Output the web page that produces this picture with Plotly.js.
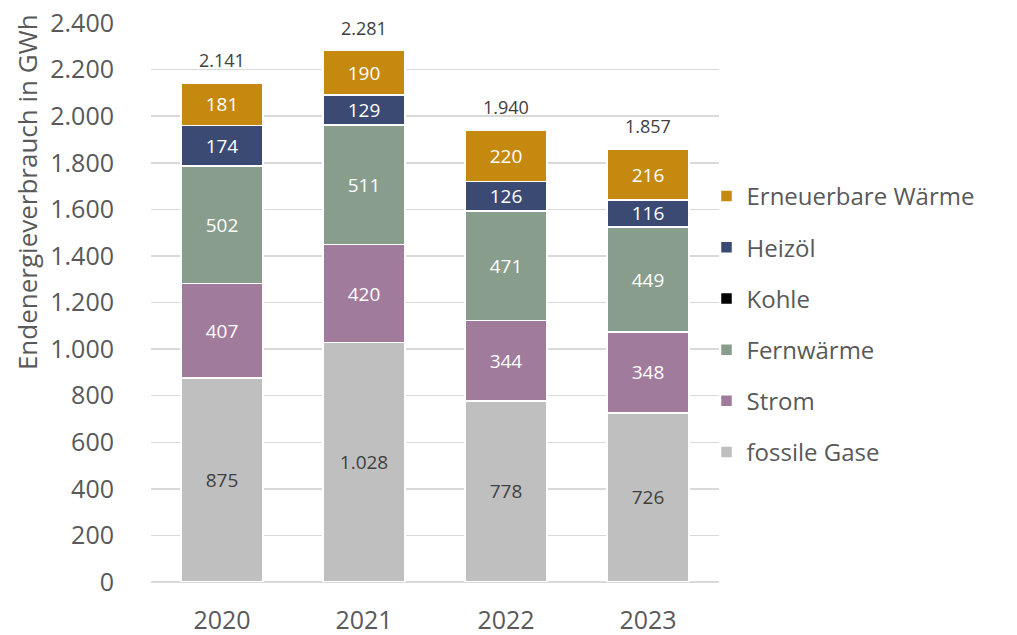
<!DOCTYPE html>
<html>
<head>
<meta charset="utf-8">
<script src="https://cdn.plot.ly/plotly-3.0.1.min.js"></script>
<style>
  html, body { margin: 0; padding: 0; background: #fff; }
  #chart { width: 1017px; height: 635px; }
</style>
</head>
<body>
<div id="chart"></div>
<script>
// --- data ---
const years = ['2020', '2021', '2022', '2023'];

const fossileGase = [875, 1028, 778, 726];
const strom = [407, 420, 344, 348];
const fernwaerme = [502, 511, 471, 449];
const kohle = [2, 3, 1, 2];
const heizoel = [174, 129, 126, 116];
const erneuerbar = [181, 190, 220, 216];

const yTicks = [0, 200, 400, 600, 800, 1000, 1200, 1400, 1600, 1800, 2000, 2200, 2400];

// series in stacking order (bottom -> top)
const series = [
  { name: 'fossile Gase', values: fossileGase, color: '#BFBFBF', textColor: '#404040' },
  { name: 'Strom', values: strom, color: '#A07B9C', textColor: '#FFFFFF' },
  { name: 'Fernwärme', values: fernwaerme, color: '#889D8C', textColor: '#FFFFFF' },
  { name: 'Kohle', values: kohle, color: '#000000', textColor: '#FFFFFF', noLabel: true },
  { name: 'Heizöl', values: heizoel, color: '#3B4A73', textColor: '#FFFFFF' },
  { name: 'Erneuerbare Wärme', values: erneuerbar, color: '#C5890F', textColor: '#FFFFFF' }
];

const FONT = 'Open Sans, Noto Sans, sans-serif';
const GREY = '#595959';

// German thousands separator
function fmt(n) {
  return String(n).replace(/\B(?=(\d{3})+(?!\d))/g, '.');
}

const traces = series.map(function(s, i) {
  return {
    type: 'bar',
    name: s.name,
    x: years,
    y: s.values,
    legendgroup: 'g' + i,
    legendrank: (series.length - i) * 10, // top series first in legend
    marker: { color: s.color, line: { color: '#FFFFFF', width: 1.5 } },
    texttemplate: s.noLabel ? '' : '%{y:,d}',
    textposition: s.noLabel ? 'none' : 'inside',
    insidetextanchor: 'middle',
    constraintext: 'none',
    textfont: { family: FONT, size: 19, color: s.textColor },
    hoverinfo: 'skip'
  };
});

// totals above each bar
const totals = years.map(function(y, j) {
  return series.reduce(function(acc, s) { return acc + s.values[j]; }, 0);
});

const annotations = years.map(function(y, j) {
  return {
    x: j, y: totals[j], xref: 'x', yref: 'y',
    text: fmt(totals[j]),
    showarrow: false,
    yanchor: 'bottom',
    yshift: 9,
    font: { family: FONT, size: 18, color: '#404040' }
  };
});

// y-axis title placed as annotation (sits higher than the axis centre in the reference)
annotations.push({
  text: 'Endenergieverbrauch in GWh',
  xref: 'paper', yref: 'paper',
  x: -0.217, y: 0.697,
  xanchor: 'center', yanchor: 'middle',
  textangle: -90,
  showarrow: false,
  font: { family: FONT, size: 26, color: GREY }
});

const layout = {
  width: 1017,
  height: 635,
  margin: { l: 151, r: 298, t: 23, b: 53 },
  paper_bgcolor: '#FFFFFF',
  plot_bgcolor: '#FFFFFF',
  barmode: 'stack',
  bargap: 0.42,
  separators: ',.',
  font: { family: FONT, color: GREY },
  xaxis: {
    type: 'category',
    range: [-0.5, 3.5],
    tickfont: { family: FONT, size: 25, color: GREY },
    ticks: '',
    ticklabelstandoff: 21,
    showline: false,
    showgrid: false,
    zeroline: false
  },
  yaxis: {
    range: [0, 2400],
    tickvals: yTicks,
    tickformat: ',d',
    tickfont: { family: FONT, size: 25, color: GREY },
    ticklabelstandoff: 36,
    showgrid: true,
    gridcolor: '#D9D9D9',
    gridwidth: 1.5,
    zeroline: true,
    zerolinecolor: '#D9D9D9',
    zerolinewidth: 1.5,
    showline: false
  },
  showlegend: true,
  legend: {
    x: 0.978, xanchor: 'left',
    y: 0.73, yanchor: 'top',
    traceorder: 'grouped',
    tracegroupgap: 17,
    font: { family: FONT, size: 24, color: GREY },
    bgcolor: 'rgba(0,0,0,0)'
  },
  annotations: annotations
};

Plotly.newPlot('chart', traces, layout, { displayModeBar: false, staticPlot: true });
</script>
</body>
</html>
